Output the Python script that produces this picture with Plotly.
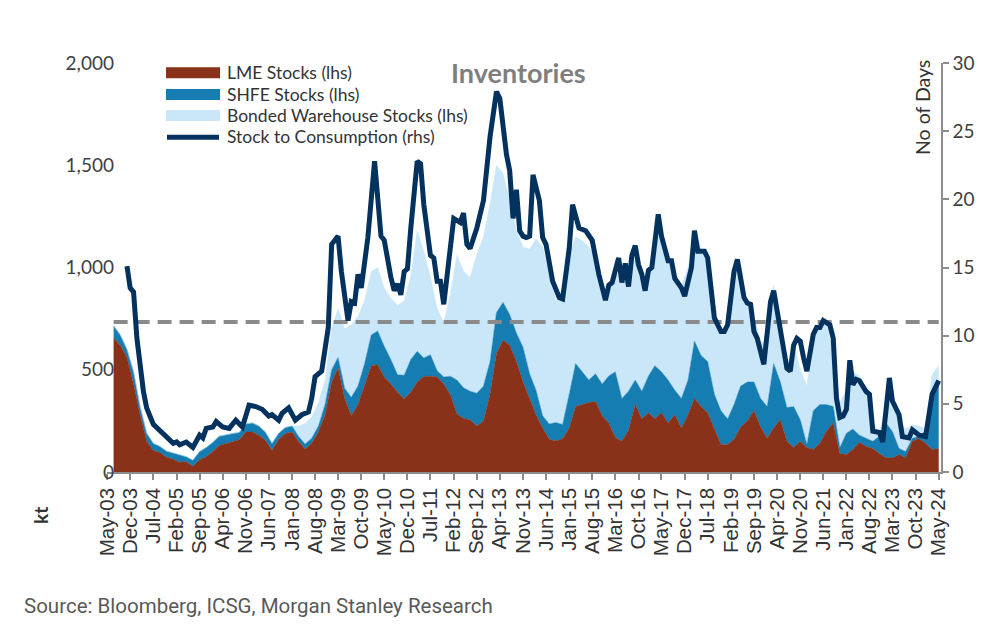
import pandas as pd
import plotly.graph_objects as go

# ---------------- data ----------------
# Stacked areas: bi-monthly readings, Jul-03 .. May-24 (kt)
area_dates = pd.date_range("2003-07-01", "2024-05-01", freq="2MS")

lme_stocks = [
    655, 620, 560, 430, 280, 150, 105, 95, 72, 62,
    48, 50, 28, 60, 75, 100, 130, 138, 148, 158,
    195, 195, 180, 155, 105, 160, 188, 195, 150, 112,
    140, 195, 280, 440, 510, 360, 275, 330, 420, 520,
    525, 465, 430, 390, 358, 390, 440, 468, 468, 465,
    430, 378, 285, 262, 255, 225, 250, 380, 580, 645,
    620, 540, 440, 360, 280, 215, 160, 152, 162, 215,
    320, 330, 340, 345, 275, 240, 170, 150, 205, 330,
    260, 290, 260, 290, 240, 280, 215, 280, 360, 320,
    290, 210, 134, 134, 160, 220, 250, 300, 220, 165,
    215, 256, 150, 120, 150, 120, 110, 140, 200, 240,
    90, 85, 110, 145, 125, 115, 90, 70, 68, 85,
    70, 150, 165, 140, 110, 115,
]

shfe_stocks = [
    60, 50, 40, 60, 40, 40, 35, 30, 30, 30,
    35, 25, 30, 40, 45, 45, 45, 45, 40, 35,
    40, 45, 45, 40, 35, 30, 30, 30, 25, 25,
    25, 30, 50, 60, 50, 50, 90, 90, 110, 150,
    165, 150, 120, 85, 115, 160, 150, 90, 105, 30,
    35, 90, 165, 150, 140, 160, 170, 160, 200, 185,
    150, 140, 170, 120, 120, 60, 75, 90, 70, 165,
    210, 160, 110, 135, 155, 230, 320, 210, 190, 120,
    135, 180, 260, 200, 210, 120, 145, 170, 280, 250,
    250, 170, 165, 125, 170, 200, 190, 140, 140, 155,
    315, 185, 165, 200, 105, 15, 190, 190, 130, 80,
    30, 105, 100, 35, 40, 35, 85, 170, 130, 30,
    30, 15, 10, 60, 260, 325,
]

bonded_stocks = [0] * 27 + [
    0, 50, 100, 105, 115, 120, 200, 240, 290, 355,
    340, 310, 310, 310, 285, 300, 340, 365, 410, 590,
    520, 380, 305, 265, 400, 610, 570, 555, 680, 730,
    770, 720, 630, 560, 500, 490, 610, 740, 825, 725,
    590, 670, 680, 620, 640, 650, 570, 420, 420, 490,
    580, 605, 590, 535, 490, 630, 660, 580, 550, 550,
    550, 550, 520, 460, 400, 400, 460, 670, 530, 400,
    320, 280, 300, 385, 180, 195, 310, 245, 285, 350,
    410, 420, 240, 220, 210, 280, 290, 225, 100, 15,
    90, 180, 135, 110, 65, 50, 10, 105, 80,
]

# Stock to consumption (days, rhs): months after May-03 and values
stc_month_offset = [
    6, 7, 8, 9, 11, 12, 14, 16, 18, 20, 21, 22, 24, 26, 28, 29, 30, 32, 33, 35,
    37, 39, 41, 43, 45, 47, 49, 50, 52, 53, 55, 57, 59, 61, 62, 63, 65, 67, 68, 70,
    71, 73, 74, 75, 76, 77, 79, 81, 83, 84, 86, 87, 88, 89, 90, 91, 92, 94, 95, 96,
    98, 99, 100, 101, 102, 104, 105, 107, 108, 109, 110, 112, 114, 116, 118, 119, 121, 122, 123, 124,
    125, 126, 127, 128, 129, 131, 132, 133, 134, 135, 137, 138, 139, 140, 141, 143, 145, 146, 147, 149,
    151, 152, 153, 155, 156, 157, 158, 159, 160, 161, 162, 163, 164, 165, 167, 168, 170, 171, 172, 174,
    175, 177, 178, 179, 181, 182, 183, 184, 186, 187, 188, 190, 191, 193, 194, 195, 196, 197, 199, 201,
    202, 204, 206, 207, 208, 209, 210, 211, 212, 214, 215, 216, 217, 219, 220, 221, 222, 223, 224, 225,
    226, 227, 228, 230, 231, 232, 234, 235, 236, 237, 238, 240, 241, 243, 244, 246, 248, 250, 251, 252,
]
stc_days = [
    15.1, 13.5, 13.2, 9.8, 5.9, 4.7, 3.5, 3.0, 2.5, 2.1, 2.2, 2.0, 2.2, 1.8, 2.7, 2.5, 3.2, 3.3, 3.7, 3.3,
    3.2, 3.8, 3.3, 4.9, 4.8, 4.6, 4.1, 4.2, 3.8, 4.3, 4.7, 3.8, 4.2, 4.4, 5.4, 7.0, 7.4, 10.6, 16.7, 17.3,
    14.7, 11.1, 12.5, 12.4, 14.5, 13.5, 17.2, 22.8, 17.3, 17.0, 14.3, 13.3, 13.8, 13.0, 14.7, 14.9, 17.9, 22.8, 22.6, 19.6,
    15.9, 15.7, 14.0, 14.0, 12.3, 16.3, 18.6, 18.3, 19.0, 16.7, 16.4, 17.9, 19.9, 24.6, 27.9, 27.4, 23.3, 22.1, 18.6, 20.7,
    17.7, 17.3, 17.2, 17.3, 21.8, 19.9, 17.2, 16.7, 15.2, 14.0, 12.8, 12.7, 14.5, 16.4, 19.6, 17.9, 17.7, 17.3, 17.0, 14.5,
    12.6, 13.7, 13.9, 15.7, 13.9, 15.3, 13.6, 15.9, 16.6, 15.2, 14.5, 13.3, 14.8, 15.0, 18.9, 17.3, 15.5, 15.5, 14.2, 13.5,
    12.9, 15.0, 17.7, 16.2, 16.2, 15.7, 13.5, 11.3, 10.3, 10.3, 10.8, 14.7, 15.6, 12.8, 12.4, 12.3, 10.3, 9.8, 7.9, 12.5,
    13.3, 10.6, 7.6, 7.4, 9.3, 9.8, 9.6, 8.4, 7.4, 10.1, 10.6, 10.6, 11.1, 10.8, 9.8, 5.4, 4.0, 4.1, 4.6, 8.2,
    6.4, 6.8, 6.7, 5.9, 5.7, 3.0, 2.9, 2.2, 4.2, 6.9, 5.2, 4.2, 2.6, 2.5, 3.1, 2.7, 2.6, 5.7, 6.2, 6.7,
]
threshold_days = 11

# x-axis tick labels: every 7 months May-03 .. May-24
tick_dates = pd.date_range("2003-05-01", "2024-05-01", freq="7MS")
tick_labels = [d.strftime("%b-%y") for d in tick_dates]

series_names = ["LME Stocks (lhs)", "SHFE Stocks (lhs)", "Bonded Warehouse Stocks (lhs)",
                "Stock to Consumption (rhs)"]

# ---------------- styling ----------------
C_LME = "#8a3219"
C_SHFE = "#167db3"
C_BOND = "#c9e7f8"
C_LINE = "#04325f"
C_DASH = "#8a8a8a"
C_AXIS = "#8c8c8c"
TXT = "#404040"

base = pd.Timestamp("2003-05-01")
stc_dates = [base + pd.DateOffset(months=m) for m in stc_month_offset]

fig = go.Figure()
for name, vals, col in [(series_names[0], lme_stocks, C_LME),
                        (series_names[1], shfe_stocks, C_SHFE),
                        (series_names[2], bonded_stocks, C_BOND)]:
    fig.add_trace(go.Scatter(x=area_dates, y=vals, name=name, mode="lines",
                             stackgroup="inv", fillcolor=col,
                             line=dict(color=col, width=0.5), showlegend=False))

fig.add_trace(go.Scatter(x=[area_dates[0], area_dates[-1]], y=[threshold_days, threshold_days],
                         mode="lines", yaxis="y2", showlegend=False,
                         line=dict(color=C_DASH, width=4, dash="14px,8px")))
fig.add_trace(go.Scatter(x=stc_dates, y=stc_days, name=series_names[3], mode="lines",
                         yaxis="y2", showlegend=False,
                         line=dict(color=C_LINE, width=5)))

L, R, T, B = 107, 56, 63, 158
W, H = 997, 630
pw, ph = W - L - R, H - T - B


def px(x):
    return (x - L) / pw


def py(y):
    return (H - B - y) / ph


fig.update_layout(
    width=W, height=H,
    margin=dict(l=L, r=R, t=T, b=B, pad=0),
    plot_bgcolor="white", paper_bgcolor="white",
    showlegend=False,
    xaxis=dict(type="date", range=["2003-05-01", "2024-05-22"],
               tickvals=tick_dates, ticktext=tick_labels, tickangle=-90,
               tickfont=dict(family="Liberation Sans, Arial", size=20.5, color="#333333"),
               ticks="outside", ticklen=6, tickcolor=C_AXIS, tickwidth=1.5,
               showline=True, linecolor=C_AXIS, linewidth=1.5,
               showgrid=False, zeroline=False),
    yaxis=dict(range=[0, 2000], tickvals=[0, 500, 1000, 1500, 2000],
               tickformat=",", tickfont=dict(family="Lato", size=19, color=TXT),
               ticklabelstandoff=-8,
               showgrid=False, zeroline=False, showline=False, ticks=""),
    yaxis2=dict(range=[0, 30], tickvals=[0, 5, 10, 15, 20, 25, 30], overlaying="y", side="right",
                tickfont=dict(family="Lato", size=19, color=TXT),
                showgrid=False, zeroline=False, showline=True, linecolor=C_AXIS, linewidth=1.5,
                ticks="outside", ticklen=6, tickcolor=C_AXIS, tickwidth=1.5),
)

# custom legend
legend_rows = [(67.3, 78.3, C_LME), (89, 100, C_SHFE), (110, 121, C_BOND)]
shapes = []
for (y0, y1, col) in legend_rows:
    shapes.append(dict(type="rect", xref="paper", yref="paper",
                       x0=px(166), x1=px(220), y0=py(y1), y1=py(y0),
                       fillcolor=col, line=dict(width=0)))
shapes.append(dict(type="line", xref="paper", yref="paper",
                   x0=px(167), x1=px(219), y0=py(137.3), y1=py(137.3),
                   line=dict(color=C_LINE, width=5)))
fig.update_layout(shapes=shapes)

ann = []
for name, yc in zip(series_names, [72.8, 94.5, 115.5, 137]):
    ann.append(dict(text=name, xref="paper", yref="paper", x=px(225), y=py(yc),
                    xanchor="left", yanchor="middle", showarrow=False,
                    font=dict(family="Lato", size=17.5, color="#333333")))
ann.append(dict(text="<b>Inventories</b>", xref="paper", yref="paper", x=px(518), y=py(72),
                xanchor="center", yanchor="middle", showarrow=False,
                font=dict(family="Lato", size=27, color="#7f7f7f")))
ann.append(dict(text="No of Days", xref="paper", yref="paper", x=px(922), y=py(108),
                xanchor="center", yanchor="middle", showarrow=False, textangle=-90,
                font=dict(family="Lato", size=19.5, color="#333333")))
ann.append(dict(text="<b>kt</b>", xref="paper", yref="paper", x=px(40), y=py(516),
                xanchor="center", yanchor="middle", showarrow=False, textangle=-90,
                font=dict(family="Lato", size=19, color="#333333")))
ann.append(dict(text="Source: Bloomberg, ICSG, Morgan Stanley Research", xref="paper", yref="paper",
                x=px(22), y=py(606), xanchor="left", yanchor="middle", showarrow=False,
                font=dict(family="Roboto", size=20.5, color="#595959")))
fig.update_layout(annotations=ann)

fig.write_html("out.html")
